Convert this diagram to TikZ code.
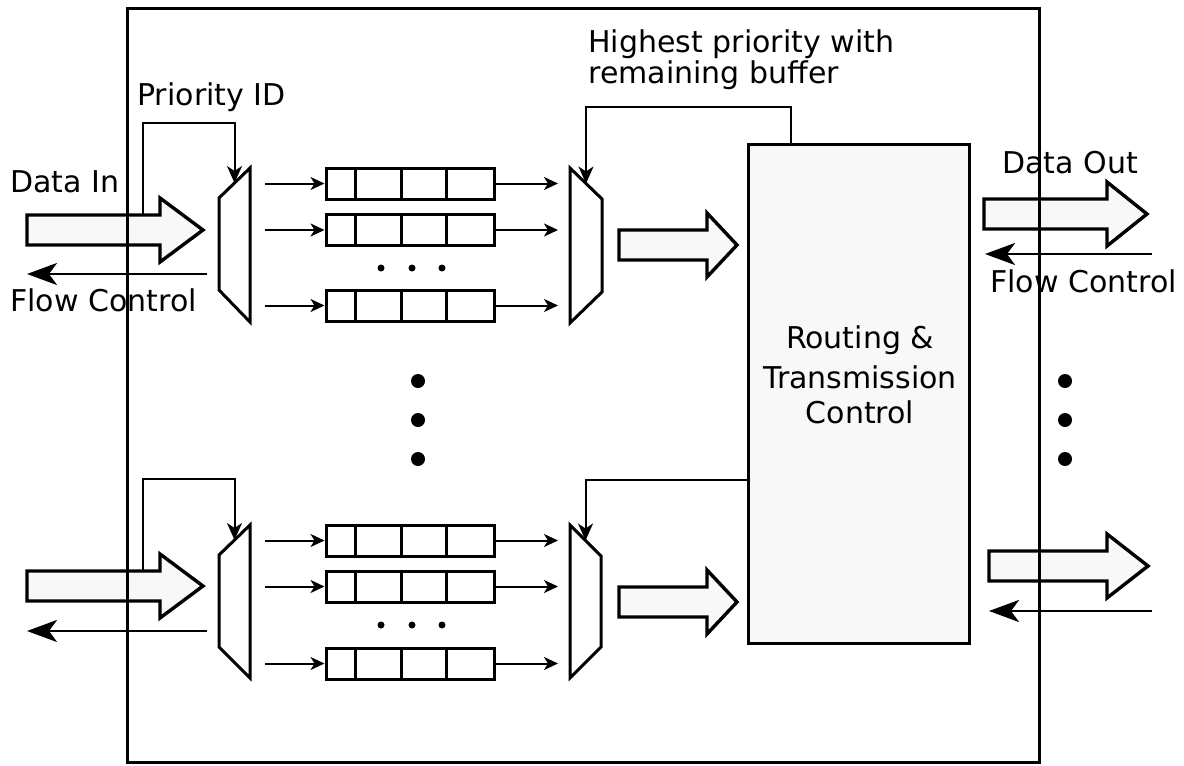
\documentclass[tikz,border=0pt]{standalone}
\usepackage{fontspec}
\setmainfont{DejaVu Sans}
\usetikzlibrary{arrows.meta,calc}

\definecolor{boxfill}{HTML}{F8F8F8}

\tikzset{
  frame/.style={line width=1.5pt},
  fat/.style={line width=1.7pt, fill=boxfill, line join=miter},
  mux/.style={line width=1.5pt, fill=white},
  queue/.style={draw, line width=1.5pt, minimum width=84pt, minimum height=15.5pt, inner sep=0pt},
  cell/.style={line width=1.5pt},
  feed/.style={line width=1pt, -{Stealth[length=7pt,width=6.5pt,inset=2pt]}},
  sel/.style={line width=1pt, -{Stealth[length=8.5pt,width=7.5pt,inset=2.5pt]}},
  flow/.style={line width=1.4pt, -{Stealth[length=15pt,width=11pt,inset=4pt]}},
  route/.style={draw, line width=1.5pt, fill=boxfill, minimum width=110.5pt, minimum height=249.5pt},
  lbl/.style={inner sep=0pt, anchor=base west},
  rlbl/.style={inner sep=0pt, anchor=base},
}

% fat arrow: tail point, body length, head length, tip name
\newcommand{\fatarrow}[4]{%
  \draw[fat] (#1) ++(0,-15) -- ++(#2,0) -- ++(0,-17) -- ++(#3,32) coordinate (#4)
    -- ++(-#3,32) -- ++(0,-17) -- ++(-#2,0) -- cycle;}

\begin{document}
\begin{tikzpicture}[x=0.5pt, y=-0.5pt, every node/.style={font=\fontsize{15}{18}\selectfont}]
  \useasboundingbox (0,0) rectangle (1184,766);

  % incoming and outgoing links
  \fatarrow{27,230}{133}{43}{in1}
  \fatarrow{27,586}{133}{43}{in2}
  \fatarrow{984,214}{123}{40}{out1}
  \fatarrow{989,566}{118}{41}{out2}
  \fatarrow{619,245}{88}{30}{mid1}
  \fatarrow{619,602}{88}{30}{mid2}

  \coordinate (fcin1) at (207,274);   \coordinate (fcin1e) at (27,274);
  \coordinate (fcin2) at (207,631);   \coordinate (fcin2e) at (27,631);
  \coordinate (fcout1) at (1152,254); \coordinate (fcout1e) at (985,254);
  \coordinate (fcout2) at (1152,611); \coordinate (fcout2e) at (989,611);
  \draw[flow] (fcin1) -- (fcin1e);
  \draw[flow] (fcin2) -- (fcin2e);
  \draw[flow] (fcout1) -- (fcout1e);
  \draw[flow] (fcout2) -- (fcout2e);

  % demux / mux pairs
  \draw[mux] (219,198) -- coordinate (sel1) (250,168) -- (250,322) -- (219,290) -- cycle;
  \draw[mux] (570,168) -- coordinate (sel2) (602,199) -- (602,292) -- (570,323) -- cycle;
  \draw[mux] (219,555) -- coordinate (sel3) (250,525) -- (250,678) -- (219,647) -- cycle;
  \draw[mux] (570,525) -- coordinate (sel4) (601,556) -- (601,647) -- (570,678) -- cycle;

  % priority queues
  \foreach \n/\y in {1/183.5, 2/230, 3/305.5, 4/540.5, 5/586.5, 6/663.5} {
    \node[queue] (q\n) at (410,\y) {};
    \foreach \d in {31,77,122}
      \draw[cell] ($(q\n.north west)+(\d,0)$) -- ($(q\n.south west)+(\d,0)$);
    \draw[feed] (265,\y) -- (q\n.west);
    \draw[feed] (q\n.east) -- (558,\y);
  }
  \foreach \y in {268,625}
    \foreach \x in {381,412,442}
      \fill (\x,\y) circle[radius=3.5pt/2];

  \node[route] (route) at (858.5,393.5) {};
  \node[rlbl] at (860,348) {Routing \&};
  \node[rlbl] at (860,388) {Transmission};
  \node[rlbl] at (860,423) {Control};

  % priority select lines
  \coordinate (pid1) at (143,215);
  \coordinate (pid2) at (143,571);
  \coordinate (fb1) at (791,144);
  \coordinate (fb2) at (748,480);
  \draw[sel] (pid1) -- (143,123) -| (sel1);
  \draw[sel] (pid2) -- (143,479) -| (sel3);
  \draw[sel] (fb1) -- (791,107) -| (sel2);
  \draw[sel] (fb2) -| (sel4);

  % more ports
  \foreach \x in {418,1065}
    \foreach \y in {381,420,459}
      \fill (\x,\y) circle[radius=3.5pt];

  \node[lbl] at (137,105) {Priority ID};
  \node[lbl] at (10,192) {Data In};
  \node[lbl] at (10,311) {Flow Control};
  \node[lbl] at (588,52) {Highest priority with};
  \node[lbl] at (588,83) {remaining buffer};
  \node[lbl] at (1002,173) {Data Out};
  \node[lbl] at (990,292) {Flow Control};

  \draw[frame] (127,8) rectangle (1039,762);
\end{tikzpicture}
\end{document}
